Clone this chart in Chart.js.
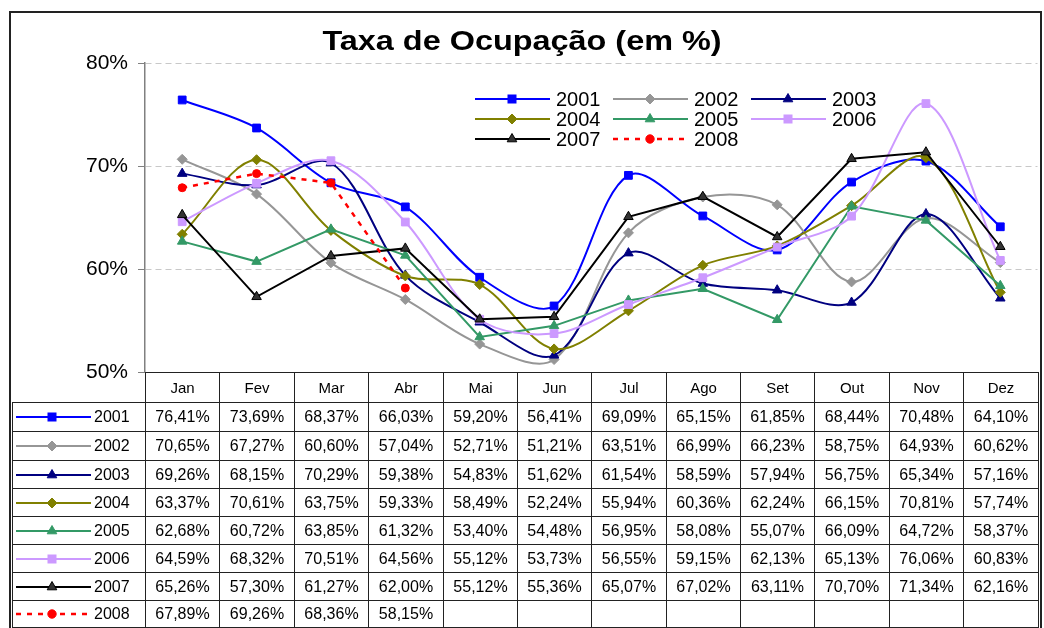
<!DOCTYPE html>
<html>
<head>
<meta charset="utf-8">
<script src="https://cdn.jsdelivr.net/npm/chart.js@4.4.1/dist/chart.umd.min.js"></script>
<style>
  body { margin: 0; background: #fff; }
  #wrap { position: relative; width: 1044px; height: 628px; overflow: hidden; background: #fff;
          font-family: "Liberation Sans", Arial, sans-serif; color: #000; }
  #c { position: absolute; left: 0; top: 0; }
  #frame { position: absolute; left: 9px; top: 11px; width: 1033px; height: 660px; box-sizing: border-box;
           border: 2px solid #222; pointer-events: none; }
  #title { position: absolute; left: 0; top: 28px; width: 1044px; text-align: center; font-weight: bold;
           font-size: 27px; line-height: 27px; transform: scaleX(1.2); transform-origin: 522px 0; white-space: nowrap; }
  .ln { position: absolute; background: #222; }
  .cell { position: absolute; display: flex; align-items: center; justify-content: center; font-size: 16px; white-space: nowrap; }
  .lab { position: absolute; display: flex; align-items: center; white-space: nowrap; }
  .lab span { font-size: 16px; margin-left: 3px; }
  .leg { position: absolute; display: flex; align-items: center; white-space: nowrap; height: 20px; }
  .leg span { font-size: 20px; margin-left: 6px; }
  svg { display: block; }
</style>
</head>
<body>
<div id="wrap">
  <canvas id="c" width="1044" height="628"></canvas>
  <div id="title">Taxa de Ocupação (em %)</div>
  <div id="overlay"></div>
  <div id="frame"></div>
</div>
<script>
// ---- data ----
const months = ['Jan','Fev','Mar','Abr','Mai','Jun','Jul','Ago','Set','Out','Nov','Dez'];
const seriesNames = ['2001','2002','2003','2004','2005','2006','2007','2008'];
const v2001 = [76.41,73.69,68.37,66.03,59.20,56.41,69.09,65.15,61.85,68.44,70.48,64.10];
const v2002 = [70.65,67.27,60.60,57.04,52.71,51.21,63.51,66.99,66.23,58.75,64.93,60.62];
const v2003 = [69.26,68.15,70.29,59.38,54.83,51.62,61.54,58.59,57.94,56.75,65.34,57.16];
const v2004 = [63.37,70.61,63.75,59.33,58.49,52.24,55.94,60.36,62.24,66.15,70.81,57.74];
const v2005 = [62.68,60.72,63.85,61.32,53.40,54.48,56.95,58.08,55.07,66.09,64.72,58.37];
const v2006 = [64.59,68.32,70.51,64.56,55.12,53.73,56.55,59.15,62.13,65.13,76.06,60.83];
const v2007 = [65.26,57.30,61.27,62.00,55.12,55.36,65.07,67.02,63.11,70.70,71.34,62.16];
const v2008 = [67.89,69.26,68.36,58.15,null,null,null,null,null,null,null,null];
const yTicks = [50,60,70,80];
const seriesValues = [v2001,v2002,v2003,v2004,v2005,v2006,v2007,v2008];

// ---- styles ----
const lineColors  = ['#0000FF','#969696','#000080','#808000','#339966','#CC99FF','#000000','#FF0000'];
const pointFills  = ['#0000FF','#969696','#000080','#808000','#339966','#CC99FF','#333333','#FF0000'];
const pointShapes = ['rect','rectRot','triangle','rectRot','triangle','rect','triangle','circle'];
const pointSizes  = [5.5,5,5.5,5,5.5,5.5,5.5,4];
const tensions    = [0.33,0.33,0.33,0.33,0,0.33,0,0];
const dashes      = [[],[],[],[],[],[],[],[5,6]];
const widths      = [2,2,2,2,2,2,2,2.5];

const datasets = seriesNames.map((name, i) => ({
  label: name,
  data: seriesValues[i],
  borderColor: lineColors[i],
  backgroundColor: pointFills[i],
  pointBackgroundColor: pointFills[i],
  pointBorderColor: lineColors[i],
  pointBorderWidth: 1,
  pointStyle: pointShapes[i],
  pointRadius: pointSizes[i],
  pointHoverRadius: pointSizes[i],
  borderWidth: widths[i],
  borderDash: dashes[i],
  tension: tensions[i],
  fill: false,
  spanGaps: false,
  order: seriesNames.length - i
}));

const chart = new Chart(document.getElementById('c'), {
  type: 'line',
  data: { labels: months, datasets },
  options: {
    responsive: false,
    animation: false,
    layout: { padding: { top: 63, left: 9, right: 4, bottom: 256 } },
    plugins: { legend: { display: false }, title: { display: false }, tooltip: { enabled: false } },
    scales: {
      x: { type: 'category', offset: true, display: false },
      y: {
        min: 50, max: 80,
        afterFit: s => { s.width = 136; },
        afterBuildTicks: s => { s.ticks = yTicks.map(v => ({ value: v })); },
        ticks: { callback: v => v + '%', color: '#000', padding: 10,
                 font: { family: '"Liberation Sans", Arial, sans-serif', size: 21 } },
        grid: { color: c => (c.tick && c.tick.value === 50) ? 'rgba(0,0,0,0)' : '#c8c8c8',
                tickColor: '#808080', tickLength: 7, lineWidth: 1 },
        border: { display: true, color: '#808080', width: 1.5, dash: [6, 4] }
      }
    }
  }
});

// ---- marker sample (svg) ----
function sample(i, len, mx) {
  const col = lineColors[i], fill = pointFills[i];
  const dash = dashes[i].length ? ` stroke-dasharray="${dashes[i].join(' ')}"` : '';
  let shape = '';
  const cy = 10;
  if (pointShapes[i] === 'rect') shape = `<rect x="${mx-4}" y="${cy-4}" width="8" height="8" fill="${fill}" stroke="${col}" stroke-width="1"/>`;
  else if (pointShapes[i] === 'rectRot') shape = `<polygon points="${mx-5},${cy} ${mx},${cy-5} ${mx+5},${cy} ${mx},${cy+5}" fill="${fill}" stroke="${col}" stroke-width="1"/>`;
  else if (pointShapes[i] === 'triangle') shape = `<polygon points="${mx},${cy-5.5} ${mx+4.8},${cy+2.8} ${mx-4.8},${cy+2.8}" fill="${fill}" stroke="${col}" stroke-width="1"/>`;
  else shape = `<circle cx="${mx}" cy="${cy}" r="4.2" fill="${fill}" stroke="${col}" stroke-width="1"/>`;
  return `<svg width="${len}" height="20"><line x1="0" y1="${cy}" x2="${len}" y2="${cy}" stroke="${col}" stroke-width="${widths[i]}"${dash}/>${shape}</svg>`;
}

// ---- overlay: legend + data table ----
const ov = document.getElementById('overlay');
let html = '';
// legend (3 columns inside plot)
const legCols = [475, 613, 751], legRows = [99, 119, 139];
seriesNames.forEach((name, i) => {
  const c = i % 3, r = Math.floor(i / 3);
  html += `<div class="leg" style="left:${legCols[c]}px;top:${legRows[r]-10}px">${sample(i, 75, 37)}<span>${name}</span></div>`;
});

// table geometry from x scale
const xs = chart.scales.x;
const ca = chart.chartArea;
const half = (xs.getPixelForValue(1) - xs.getPixelForValue(0)) / 2;
const edges = months.map((m, i) => Math.round(xs.getPixelForValue(i) - half));
edges.push(Math.round(xs.getPixelForValue(months.length - 1) + half));
const axisY = Math.round(ca.bottom);
const rowEdges = [402, 431, 460, 488, 516, 544, 572, 600, 627];
const tableLeft = 12;
const R = edges[edges.length - 1];

// lines
html += `<div class="ln" style="left:${edges[0]}px;top:${axisY}px;width:${R-edges[0]+1}px;height:1px"></div>`;
rowEdges.forEach(y => { html += `<div class="ln" style="left:${tableLeft}px;top:${y}px;width:${R-tableLeft+1}px;height:1px"></div>`; });
html += `<div class="ln" style="left:${tableLeft}px;top:${rowEdges[0]}px;width:1px;height:${rowEdges[rowEdges.length-1]-rowEdges[0]}px"></div>`;
edges.forEach(x => { html += `<div class="ln" style="left:${x}px;top:${axisY}px;width:1px;height:${rowEdges[rowEdges.length-1]-axisY}px"></div>`; });

// header
months.forEach((m, i) => {
  html += `<div class="cell" style="left:${edges[i]+1}px;top:${axisY+1}px;width:${edges[i+1]-edges[i]-1}px;height:${rowEdges[0]-axisY-1}px;font-size:15px">${m}</div>`;
});
// rows
const fmt = v => v.toFixed(2).replace('.', ',') + '%';
seriesNames.forEach((name, r) => {
  const y0 = rowEdges[r], y1 = rowEdges[r + 1];
  html += `<div class="lab" style="left:${tableLeft+4}px;top:${y0+1}px;height:${y1-y0-1}px">${sample(r, 75, 36)}<span>${name}</span></div>`;
  seriesValues[r].forEach((v, i) => {
    if (v === null) return;
    html += `<div class="cell" style="left:${edges[i]+1}px;top:${y0+1}px;width:${edges[i+1]-edges[i]-1}px;height:${y1-y0-1}px">${fmt(v)}</div>`;
  });
});
ov.innerHTML = html;
</script>
</body>
</html>
